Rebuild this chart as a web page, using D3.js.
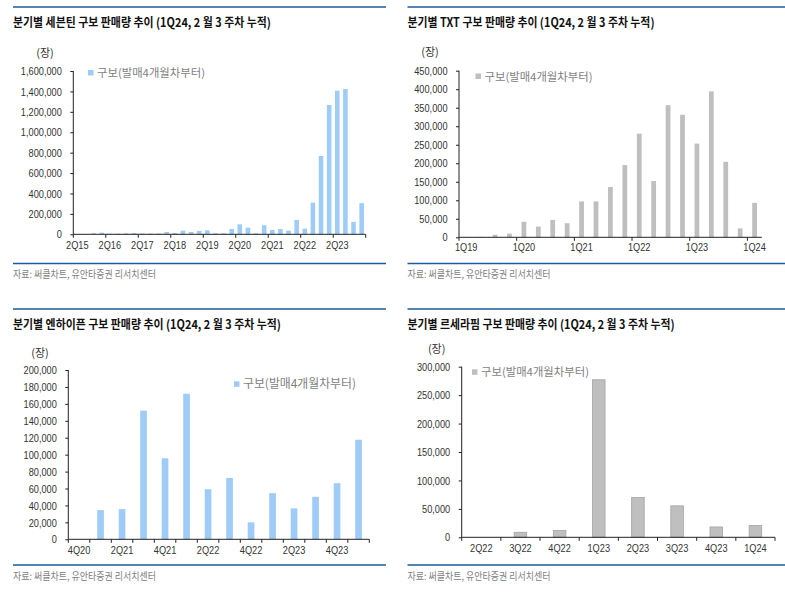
<!DOCTYPE html>
<html><head><meta charset="utf-8">
<script src="https://cdn.jsdelivr.net/npm/d3@7"></script>
<style>
html,body{margin:0;padding:0;background:#fff;}
svg{display:block;}
</style></head>
<body>
<svg id="c" width="785" height="594"></svg>
<script>
// ---------- DATA ----------
const sevCats = ["2Q15","3Q15","4Q15","1Q16","2Q16","3Q16","4Q16","1Q17","2Q17","3Q17","4Q17","1Q18","2Q18","3Q18","4Q18","1Q19","2Q19","3Q19","4Q19","1Q20","2Q20","3Q20","4Q20","1Q21","2Q21","3Q21","4Q21","1Q22","2Q22","3Q22","4Q22","1Q23","2Q23","3Q23","4Q23","1Q24"];
const sevVals = [0,0,10000,16000,6000,6000,10000,13000,7000,7000,8000,23000,13000,36000,23000,33000,39000,10000,10000,52000,98000,65000,10000,88000,42000,52000,36000,140000,55000,310000,767000,1267000,1407000,1424000,122000,305000];
const sevLabels = ["2Q15","2Q16","2Q17","2Q18","2Q19","2Q20","2Q21","2Q22","2Q23"];
const sevTicks = [0,200000,400000,600000,800000,1000000,1200000,1400000,1600000];

const txtCats = ["1Q19","2Q19","3Q19","4Q19","1Q20","2Q20","3Q20","4Q20","1Q21","2Q21","3Q21","4Q21","1Q22","2Q22","3Q22","4Q22","1Q23","2Q23","3Q23","4Q23","1Q24"];
const txtVals = [0,1000,7000,10000,42000,29000,47000,38000,97000,97000,136000,195000,280000,152000,357000,331000,253000,394000,204000,24000,93000];
const txtLabels = ["1Q19","1Q20","1Q21","1Q22","1Q23","1Q24"];
const txtTicks = [0,50000,100000,150000,200000,250000,300000,350000,400000,450000];

const enhCats = ["4Q20","1Q21","2Q21","3Q21","4Q21","1Q22","2Q22","3Q22","4Q22","1Q23","2Q23","3Q23","4Q23","1Q24"];
const enhVals = [0,34500,35700,152000,95700,172000,59200,72500,20000,54500,36500,50200,66300,117600];
const enhLabels = ["4Q20","2Q21","4Q21","2Q22","4Q22","2Q23","4Q23"];
const enhTicks = [0,20000,40000,60000,80000,100000,120000,140000,160000,180000,200000];

const lsfCats = ["2Q22","3Q22","4Q22","1Q23","2Q23","3Q23","4Q23","1Q24"];
const lsfVals = [0,8800,11800,277000,70000,55300,18200,20600];
const lsfLabels = lsfCats;
const lsfTicks = [0,50000,100000,150000,200000,250000,300000];

const titles = [
  "분기별 세븐틴 구보 판매량 추이 (1Q24, 2 월 3 주차 누적)",
  "분기별 TXT 구보 판매량 추이 (1Q24, 2 월 3 주차 누적)",
  "분기별 엔하이픈 구보 판매량 추이 (1Q24, 2 월 3 주차 누적)",
  "분기별 르세라핌 구보 판매량 추이 (1Q24, 2 월 3 주차 누적)"
];
const legendLabel = "구보(발매4개월차부터)";
const unitLabel = "(장)";
const sourceLabel = "자료: 써클차트, 유안타증권 리서치센터";

// ---------- DRAW ----------
const svg = d3.select("#c");
const KR = "'Noto Sans CJK KR','Noto Sans',sans-serif";
const LAT = "'Liberation Sans',Arial,sans-serif";
const fmt = d3.format(",");

function fitText(sel, target){
  sel.each(function(){
    const w = this.getComputedTextLength();
    const t = (typeof target === "function") ? target(w) : target;
    this.setAttribute("textLength", t);
    this.setAttribute("lengthAdjust","spacingAndGlyphs");
  });
}

function panel(cfg){
  const g = svg.append("g");
  // top rule
  g.append("line").attr("x1",cfg.px0).attr("x2",cfg.px1).attr("y1",cfg.top).attr("y2",cfg.top)
    .attr("stroke","#1d5a9e").attr("stroke-width",1.5);
  // title
  const t = g.append("text").attr("x",cfg.px0).attr("y",cfg.top+19.5)
    .attr("font-family",KR).attr("font-weight","bold").attr("font-size",12.5).attr("fill","#111")
    .text(cfg.title);
  fitText(t, cfg.titleW);
  // bottom rule
  g.append("line").attr("x1",cfg.px0).attr("x2",cfg.px1).attr("y1",cfg.bottom).attr("y2",cfg.bottom)
    .attr("stroke","#1d5a9e").attr("stroke-width",1.5);
  const s = g.append("text").attr("x",cfg.px0).attr("y",cfg.bottom+14.5)
    .attr("font-family",KR).attr("font-size",10).attr("fill","#808080").text(sourceLabel);
  fitText(s, 143);

  const x = d3.scaleBand().domain(cfg.cats).range([cfg.x0,cfg.x1]).paddingInner(cfg.pad).paddingOuter(cfg.pad/2);
  const y = d3.scaleLinear().domain([0,cfg.ymax]).range([cfg.y0,cfg.y1]);

  // bars
  g.append("g").selectAll("rect").data(cfg.vals.map((v,i)=>({c:cfg.cats[i],v})).filter(d=>d.v>0))
    .join("rect")
    .attr("x",d=>x(d.c)).attr("width",x.bandwidth())
    .attr("y",d=>y(d.v)).attr("height",d=>cfg.y0-y(d.v))
    .attr("fill",cfg.color)
    .attr("stroke",cfg.stroke||"none").attr("stroke-width",cfg.stroke?0.8:0);

  // y axis
  const ya = g.append("g").attr("transform",`translate(${cfg.x0},0)`)
    .call(d3.axisLeft(y).tickValues(cfg.yticks).tickFormat(fmt).tickSize(3).tickPadding(8.5));
  ya.select(".domain").attr("stroke","#222").attr("d",`M-0,${cfg.y1}V${cfg.y0}`);
  ya.selectAll(".tick line").attr("stroke","#222");
  ya.selectAll("text").attr("font-family",LAT).attr("font-size",11.5).attr("fill","#333");
  fitText(ya.selectAll("text"), w=>w*0.8);

  // x axis
  const step = x.step();
  const xa = g.append("g").attr("transform",`translate(0,${cfg.y0})`);
  xa.append("line").attr("x1",cfg.x0).attr("x2",cfg.x1).attr("stroke","#222");
  // ticks at category boundaries
  const tickIdx = d3.range(0,cfg.cats.length+1).filter(i=>i%cfg.tickEvery===0 || (cfg.endTick && i===cfg.cats.length));
  xa.selectAll("line.tk").data(tickIdx).join("line").attr("class","tk")
    .attr("x1",i=>cfg.x0+i*step).attr("x2",i=>cfg.x0+i*step).attr("y1",0).attr("y2",3.5).attr("stroke","#222");
  const labs = xa.selectAll("text").data(cfg.labels).join("text")
    .attr("x",d=>x(d)+x.bandwidth()/2).attr("y",cfg.xlabY)
    .attr("text-anchor","middle").attr("font-family",LAT).attr("font-size",11.5).attr("fill","#333")
    .text(d=>d);
  fitText(labs, w=>w*0.8);

  // unit
  g.append("text").attr("x",cfg.unitX).attr("y",cfg.unitY).attr("text-anchor","middle")
    .attr("font-family",KR).attr("font-size",11).attr("fill","#333").text(unitLabel);

  // legend
  g.append("rect").attr("x",cfg.legX).attr("y",cfg.legY-3).attr("width",5.5).attr("height",5.5).attr("fill",cfg.color);
  const lt = g.append("text").attr("x",cfg.legX+9).attr("y",cfg.legY+4)
    .attr("font-family",KR).attr("font-size",cfg.legFont).attr("fill","#7f7f7f").text(legendLabel);
  fitText(lt, cfg.legW);
}

const BLUE = "#9ecbf8", GRAY = "#bfbfbf";

panel({title:titles[0], titleW:258, px0:13, px1:386, top:7, bottom:263.5,
  cats:sevCats, vals:sevVals, labels:sevLabels, yticks:sevTicks, ymax:1600000,
  x0:73.3, x1:365.7, y0:234.3, y1:71, pad:0.44, color:BLUE,
  tickEvery:4, endTick:true, xlabY:14.5,
  unitX:45, unitY:57, legX:88, legY:73, legW:108, legFont:11});

panel({title:titles[1], titleW:247, px0:407.5, px1:785, top:7, bottom:263.5,
  cats:txtCats, vals:txtVals, labels:txtLabels, yticks:txtTicks, ymax:450000,
  x0:459, x1:761.8, y0:237.3, y1:70.7, pad:0.67, color:GRAY,
  tickEvery:4, endTick:false, xlabY:13.5,
  unitX:430, unitY:56, legX:475.5, legY:76.5, legW:108, legFont:11});

panel({title:titles[2], titleW:268, px0:13, px1:386, top:309, bottom:565,
  cats:enhCats, vals:enhVals, labels:enhLabels, yticks:enhTicks, ymax:200000,
  x0:68.3, x1:369.3, y0:539.3, y1:370, pad:0.69, color:BLUE,
  tickEvery:1, endTick:true, xlabY:14.5,
  unitX:40, unitY:357, legX:234, legY:384.3, legW:113, legFont:12});

panel({title:titles[3], titleW:267, px0:407.5, px1:785, top:309, bottom:565,
  cats:lsfCats, vals:lsfVals, labels:lsfLabels, yticks:lsfTicks, ymax:300000,
  x0:461.7, x1:775, y0:537.3, y1:366.7, pad:0.68, color:GRAY, stroke:"#a3a3a3",
  tickEvery:1, endTick:true, xlabY:14.5,
  unitX:436.7, unitY:353, legX:472, legY:372.3, legW:108, legFont:11});
</script>
</body></html>
